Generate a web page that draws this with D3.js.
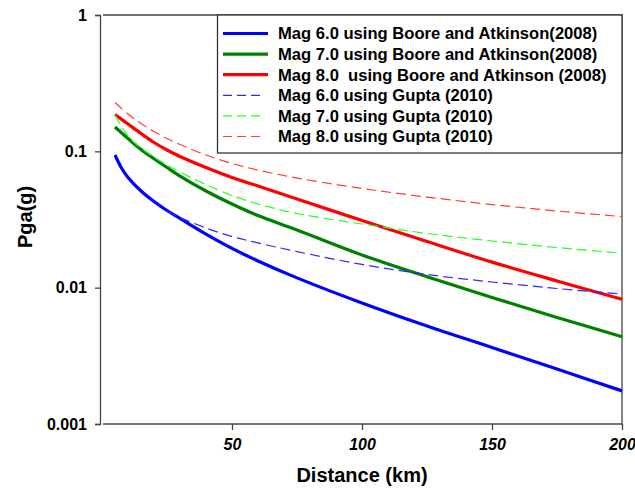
<!DOCTYPE html>
<html>
<head>
<meta charset="utf-8">
<script src="https://cdn.jsdelivr.net/npm/d3@7"></script>
<style>
  body { margin: 0; background: #fff; }
  text { font-family: "Liberation Sans", Arial, sans-serif; font-weight: bold; fill: #000; }
</style>
</head>
<body>
<div id="vis"></div>
<script>

// distances (km) sampled along the curves
var dist = [5, 10, 15, 20, 25, 30, 40, 50, 60, 75, 100, 125, 150, 175, 200];
var distBaM6 = [5, 7.5, 10, 15, 20, 25, 30, 40, 50, 60, 75, 100, 125, 150, 175, 200];
var distGuptaM6 = [25, 30, 40, 50, 60, 75, 100, 125, 150, 175, 200];

// Boore and Atkinson (2008)
var baM6 = [0.0940, 0.0754, 0.0643, 0.0512, 0.0429, 0.0368, 0.0322, 0.0247, 0.0194, 0.0157, 0.0118, 0.00772, 0.00523, 0.00364, 0.00253, 0.00175];
var baM7 = [0.1509, 0.1242, 0.1031, 0.0883, 0.0761, 0.0659, 0.0512, 0.0411, 0.0338, 0.0265, 0.01737, 0.01202, 0.00847, 0.00605, 0.00437];
var baM8 = [0.1863, 0.1587, 0.1351, 0.1161, 0.1023, 0.0917, 0.0761, 0.0643, 0.0557, 0.0447, 0.0311, 0.0218, 0.0154, 0.0112, 0.00822];

// Gupta (2010)
var guM6 = [0.0365, 0.0327, 0.0274, 0.0237, 0.0213, 0.0184, 0.0148, 0.0125, 0.0110, 0.00986, 0.00898];
var guM7 = [0.1847, 0.1296, 0.1058, 0.0909, 0.0794, 0.0705, 0.0571, 0.0474, 0.0411, 0.0350, 0.0293, 0.0250, 0.0220, 0.0197, 0.0179];
var guM8 = [0.2282, 0.1878, 0.1600, 0.1398, 0.1242, 0.1122, 0.0940, 0.0814, 0.0729, 0.0637, 0.0534, 0.0462, 0.0407, 0.0365, 0.0332];

var xTicks = [50, 100, 150, 200];
var yTicks = [0.001, 0.01, 0.1, 1];

var legendLabels = [
  "Mag 6.0 using Boore and Atkinson(2008)",
  "Mag 7.0 using Boore and Atkinson(2008)",
  "Mag 8.0  using Boore and Atkinson (2008)",
  "Mag 6.0 using Gupta (2010)",
  "Mag 7.0 using Gupta (2010)",
  "Mag 8.0 using Gupta (2010)"
];

var series = [
  {x: distBaM6, y: baM6, color: "#0000ff", dash: null},
  {x: dist, y: baM7, color: "#008000", dash: null},
  {x: dist, y: baM8, color: "#ff0000", dash: null},
  {x: distGuptaM6, y: guM6, color: "#2a2aff", dash: "10,5"},
  {x: dist, y: guM7, color: "#22ff22", dash: "10,5"},
  {x: dist, y: guM8, color: "#ff3c3c", dash: "10,5"}
];

var width = 635;
var height = 492;
var plot = {left: 102, right: 622, top: 15, bottom: 424};

var svg = d3.select("#vis")
  .append("svg")
    .attr("width", width)
    .attr("height", height);

var x = d3.scaleLinear()
    .domain([0, 200])
    .range([plot.left, plot.right]);

var y = d3.scaleLog()
    .domain([0.001, 1])
    .range([plot.bottom, plot.top]);

var line = d3.line()
    .curve(d3.curveCatmullRom.alpha(0.5))
    .x(function(d) { return x(d[0]); })
    .y(function(d) { return y(d[1]); });

// frame (top and right)
svg.append("path")
    .attr("d", "M" + (plot.left + 1) + "," + plot.top + "H" + plot.right + "V" + plot.bottom)
    .attr("fill", "none")
    .attr("stroke", "#444")
    .attr("stroke-width", 1.3);

// y axis
var yAxis = svg.append("g")
    .attr("transform", "translate(" + (plot.left - 2) + ",0)")
    .call(d3.axisLeft(y)
      .tickValues(yTicks)
      .tickSize(5)
      .tickPadding(8)
      .tickFormat(function(d) { return String(d); }));

// x axis
var xAxis = svg.append("g")
    .attr("transform", "translate(0," + plot.bottom + ")")
    .call(d3.axisBottom(x)
      .tickValues(xTicks)
      .tickSize(6)
      .tickPadding(9)
      .tickFormat(d3.format("d")));

xAxis.select(".domain").attr("d", "M" + (plot.left + 1) + ",0H" + plot.right);

[yAxis, xAxis].forEach(function(a) {
  a.selectAll("path, line").attr("stroke", "#444").attr("stroke-width", 1.3);
  a.selectAll("text")
    .style("font-family", "'Liberation Sans', Arial, sans-serif")
    .style("font-weight", "bold")
    .style("font-size", "16px")
    .attr("fill", "#000");
});
xAxis.selectAll("text").style("font-style", "italic");

// curves
series.forEach(function(s) {
  var pts = s.x.map(function(d, i) { return [d, s.y[i]]; });
  svg.append("path")
      .datum(pts)
      .attr("fill", "none")
      .attr("stroke", s.color)
      .attr("stroke-width", s.dash ? 1.2 : 3.2)
      .attr("stroke-dasharray", s.dash)
      .attr("d", line);
});

// legend
var legend = svg.append("g");

legend.append("rect")
    .attr("x", 217.5)
    .attr("y", plot.top)
    .attr("width", plot.right - 217.5)
    .attr("height", 138)
    .attr("fill", "#fff")
    .attr("stroke", "#333")
    .attr("stroke-width", 1.3);

legendLabels.forEach(function(label, i) {
  var s = series[i];
  var ly = 33.5 + i * 20.6;
  legend.append("line")
      .attr("x1", 223)
      .attr("x2", s.dash ? 264 : 268)
      .attr("y1", ly)
      .attr("y2", ly)
      .attr("stroke", s.color)
      .attr("stroke-width", s.dash ? 1.2 : 3.2)
      .attr("stroke-dasharray", s.dash ? "9,5" : null);
  legend.append("text")
      .attr("x", 278)
      .attr("y", ly)
      .attr("dy", "0.36em")
      .style("font-size", "16.6px")
      .style("white-space", "pre")
      .text(label);
});

// axis titles
svg.append("text")
    .attr("x", 362)
    .attr("y", 482)
    .attr("text-anchor", "middle")
    .style("font-size", "20px")
    .text("Distance (km)");

svg.append("text")
    .attr("transform", "translate(32,217) rotate(-90)")
    .attr("text-anchor", "middle")
    .style("font-size", "20px")
    .text("Pga(g)");

</script>
</body>
</html>
